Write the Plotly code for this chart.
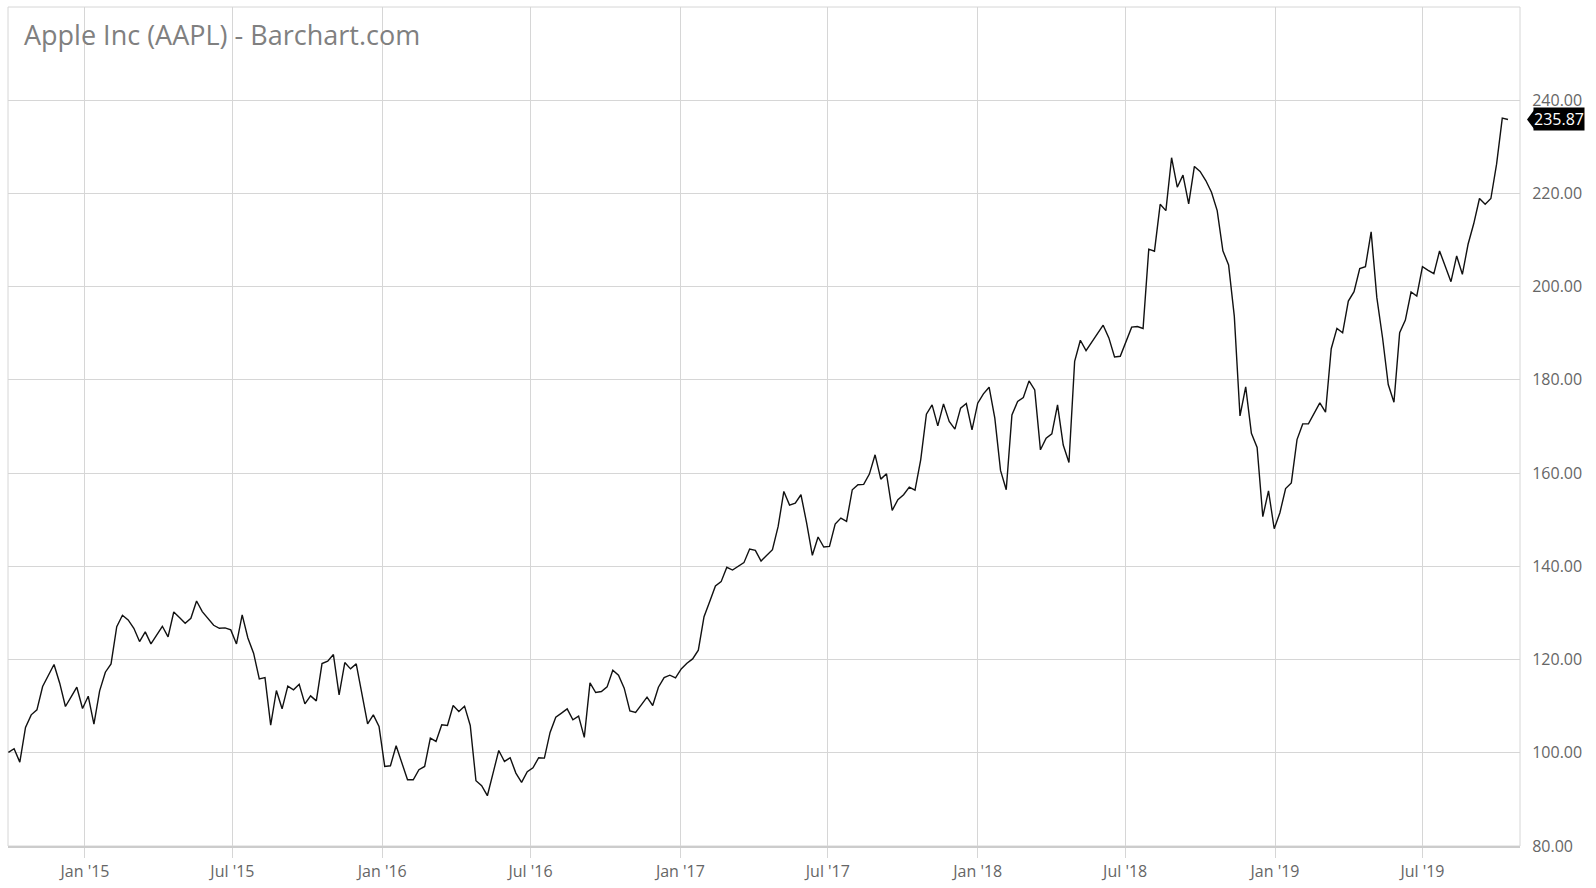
import pandas as pd
import plotly.graph_objects as go

# ---- data (weekly closes, AAPL) ----
start_week = "2014-09-29"
close_a = [100.07, 100.86, 98.0, 105.43, 108.14, 109.21, 114.21, 116.57, 118.93, 114.93,
           109.93, 112.0, 114.07, 109.5, 112.14, 106.14, 113.29, 117.29, 119.07, 127.07,
           129.5, 128.5, 126.71, 123.86, 125.93, 123.36, 125.29, 127.14, 124.86, 130.21,
           129.0, 127.79, 128.86, 132.57, 130.29, 128.79, 127.36, 126.71, 126.79, 126.36,
           123.36, 129.57, 124.64, 121.36, 115.86, 116.14, 105.93, 113.36, 109.43, 114.29,
           113.5, 114.71, 110.5, 112.21, 111.14, 119.14, 119.64, 121.07, 112.43, 119.36,
           118.0, 119.07, 113.0, 106.21, 108.14, 105.64, 97.07, 97.21, 101.5, 97.64,
           94.21, 94.21, 96.36]
close_b = [97.07, 103.14, 102.43, 106.0, 105.86, 110.14, 108.86, 110.0, 105.86, 94.0,
           92.93, 90.79, 95.64, 100.5, 98.14, 98.93, 95.64, 93.64, 95.93, 96.79,
           98.93, 98.86, 104.36, 107.64, 108.5, 109.43, 107.07, 107.86, 103.29, 115.0,
           112.93, 113.14, 114.14, 117.71, 116.64, 113.86, 109.0, 108.64, 110.29, 111.93,
           110.14, 114.07, 116.14, 116.64, 116.07, 118.0, 119.21, 120.14, 122.0, 129.21,
           132.43, 135.79, 136.71, 139.79, 139.21, 139.93, 140.79]
close_c = [143.71, 143.43, 141.14, 142.29, 143.57, 148.57, 156.07, 153.14, 153.57, 155.36,
           149.29, 142.36, 146.29, 144.14, 144.29, 149.07, 150.36, 149.64, 156.43, 157.5,
           157.57, 159.79, 163.93, 158.71, 159.86, 152.0, 154.29, 155.36, 157.0, 156.36,
           162.86, 172.64, 174.64, 170.14, 174.86, 171.07, 169.43, 173.93, 174.93, 169.29,
           175.0, 177.0, 178.43, 171.79, 160.57, 156.43, 172.5, 175.36, 176.21, 179.79,
           177.86, 165.0, 167.5, 168.43, 174.64]
close_d = [166.02, 162.28, 183.98, 188.51, 186.28, 188.15, 189.73, 191.74, 189.01, 184.91,
           185.06, 188.07, 191.31, 191.45, 191.02, 208.05, 207.61, 217.67, 216.31, 227.66,
           221.34, 223.92, 217.74, 225.79, 224.71, 222.77, 220.26, 216.31, 207.69, 204.67,
           193.68, 172.27, 178.52, 168.53, 165.52, 150.65, 156.18, 148.06, 151.51, 156.68,
           157.90, 167.2]
close_e = [170.56, 170.56, 172.92, 175.07, 173.07, 186.68, 191.05, 190.11, 196.92, 198.93,
           203.87, 204.30, 211.75, 197.64, 189.04, 179.01, 175.21, 190.11, 192.84, 198.85,
           197.99, 204.30, 203.51, 202.79, 207.66, 204.44, 201.07, 206.59, 202.65, 209.10,
           213.54, 218.91, 217.69, 218.91, 226.29, 236.17, 235.87]

y_ticks = [80, 100, 120, 140, 160, 180, 200, 220, 240]
y_tick_text = [f"{v:.2f}" for v in y_ticks]
title_text = "Apple Inc (AAPL) - Barchart.com"

closes = close_a + close_b + close_c + close_d + close_e
dates = pd.date_range(start_week, periods=len(closes), freq="7D")
last_val = closes[-1]

GRID = "#d6d6d6"
FONT = "Open Sans"

fig = go.Figure()
fig.add_trace(go.Scatter(x=dates, y=closes, mode="lines",
                         line=dict(color="#111111", width=1.4),
                         hoverinfo="x+y", showlegend=False))

fig.update_layout(
    width=1596, height=888,
    margin=dict(l=8, r=76, t=7, b=42),
    paper_bgcolor="white", plot_bgcolor="white",
    font=dict(family=FONT, color="#666666", size=16),
    title=dict(text=title_text, x=24 / 1596, xanchor="left", xref="container",
               y=1 - 36 / 888, yanchor="middle", yref="container",
               font=dict(family=FONT, size=27, color="#808080")),
    xaxis=dict(
        range=["2014-09-28 12:00", "2019-10-28 18:00"],
        tickformat="%b '%y", dtick="M6", tick0="2015-01-01",
        showgrid=True, gridcolor=GRID, gridwidth=1,
        ticks="outside", ticklen=10, tickcolor=GRID, tickwidth=1,
        showline=True, linecolor="#cccccc", linewidth=2,
        zeroline=False, tickfont=dict(size=16, color="#666666"),
    ),
    yaxis=dict(
        range=[80, 260], side="right",
        tickvals=y_ticks, ticktext=y_tick_text,
        showgrid=True, gridcolor=GRID, gridwidth=1,
        ticks="outside", ticklen=8, tickcolor="rgba(0,0,0,0)",
        showline=False, zeroline=False,
        tickfont=dict(size=16, color="#666666"),
    ),
    shapes=[
        dict(type="rect", xref="paper", yref="paper", x0=0, x1=1, y0=0, y1=1,
             line=dict(color=GRID, width=1), fillcolor="rgba(0,0,0,0)", layer="below"),
    ],
)

# last-price tag
pw = 1596 - 8 - 76
ph = 888 - 7 - 42
tip_x = 1 + 7 / pw
box_x = 1 + 13 / pw
half_h = 10 * 180 / ph
fig.add_shape(type="path", xref="paper", yref="y",
              path=f"M {tip_x} {last_val} L {box_x + 0.001} {last_val + half_h} "
                   f"L {box_x + 0.001} {last_val - half_h} Z",
              fillcolor="black", line=dict(width=0))
fig.add_annotation(xref="paper", yref="y", x=box_x, y=last_val, xanchor="left",
                   yanchor="middle", text="235.87", showarrow=False,
                   bgcolor="black", borderpad=0,
                   font=dict(family=FONT, size=16, color="white"))

fig.write_html("out.html")
